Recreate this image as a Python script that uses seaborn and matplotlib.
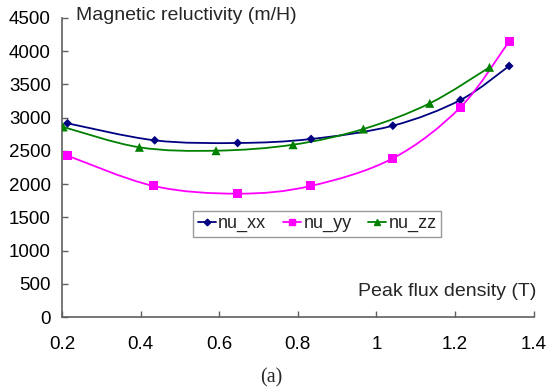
import numpy as np
import pandas as pd
import seaborn as sns
import matplotlib
matplotlib.use("Agg")
import matplotlib.pyplot as plt
from matplotlib.path import Path
from matplotlib.patches import PathPatch
from matplotlib.lines import Line2D
from matplotlib.ticker import FuncFormatter, MultipleLocator

# ---- data ----
series_names = ["nu_xx", "nu_yy", "nu_zz"]
b_xx = [0.214, 0.436, 0.647, 0.834, 1.042, 1.214, 1.338]
nu_xx = [2915, 2659, 2619, 2679, 2879, 3266, 3778]
b_yy = [0.214, 0.433, 0.647, 0.833, 1.042, 1.214, 1.338]
nu_yy = [2428, 1972, 1856, 1972, 2388, 3156, 4149]
b_zz = [0.203, 0.397, 0.592, 0.788, 0.967, 1.136, 1.288]
nu_zz = [2860, 2554, 2503, 2593, 2829, 3216, 3758]
x_ticks = [0.2, 0.4, 0.6, 0.8, 1.0, 1.2, 1.4]
y_label = "Magnetic reluctivity (m/H)"
x_label = "Peak flux density (T)"
caption = "(a)"

colors = {"nu_xx": "#000080", "nu_yy": "#FF00FF", "nu_zz": "#008000"}
markers = {"nu_xx": "D", "nu_yy": "s", "nu_zz": "^"}
msizes = {"nu_xx": 4.5, "nu_yy": 6.5, "nu_zz": 6.5}

df = pd.concat([
    pd.DataFrame({"B": b_xx, "nu": nu_xx, "series": "nu_xx"}),
    pd.DataFrame({"B": b_yy, "nu": nu_yy, "series": "nu_yy"}),
    pd.DataFrame({"B": b_zz, "nu": nu_zz, "series": "nu_zz"}),
])

sns.set_style("ticks")
plt.rcParams["font.family"] = ["Liberation Sans", "DejaVu Sans"]

fig = plt.figure(figsize=(5.5, 3.92), dpi=100)
ax = fig.add_axes([62 / 550, 1 - 317 / 392, (533.5 - 62) / 550, (317 - 18) / 392])


def smooth_path(xs, ys):
    """Excel-like smoothed line: cubic Bezier through the points."""
    pts = np.column_stack([xs, ys]).astype(float)
    n = len(pts)
    verts = [pts[0]]
    codes = [Path.MOVETO]
    for i in range(n - 1):
        p0 = pts[i - 1] if i > 0 else pts[i]
        p1 = pts[i]
        p2 = pts[i + 1]
        p3 = pts[i + 2] if i + 2 < n else pts[i + 1]
        c1 = p1 + (p2 - p0) / 6.0
        c2 = p2 - (p3 - p1) / 6.0
        verts += [c1, c2, p2]
        codes += [Path.CURVE4] * 3
    return Path(verts, codes)


for name in series_names:
    sub = df[df["series"] == name]
    ax.add_patch(PathPatch(smooth_path(sub["B"], sub["nu"]), facecolor="none",
                           edgecolor=colors[name], lw=1.3, zorder=2))

sns.scatterplot(data=df, x="B", y="nu", hue="series", style="series",
                palette=colors, markers=markers, size="series",
                sizes={k: v ** 2 for k, v in msizes.items()},
                edgecolor="none", legend=False, ax=ax, zorder=3)

ax.set_xlim(0.2, 1.4)
ax.set_ylim(0, 4500)
ax.set_xticks(x_ticks)
ax.yaxis.set_major_locator(MultipleLocator(500))
ax.xaxis.set_major_formatter(FuncFormatter(lambda v, p: f"{v:g}"))
ax.set_xlabel("")
ax.set_ylabel("")
for s in ["top", "right"]:
    ax.spines[s].set_visible(False)
for s in ["left", "bottom"]:
    ax.spines[s].set_color("#606060")
    ax.spines[s].set_linewidth(1.2)
ax.tick_params(direction="in", length=4, width=1, color="#606060",
               labelsize=13.5, labelcolor="black")
ax.tick_params(axis="x", pad=14)
ax.tick_params(axis="y", pad=8)

ax.text(0.03, 1.01, y_label, transform=ax.transAxes, fontsize=14,
        ha="left", va="center")
ax.text(1.006, 0.084, x_label, transform=ax.transAxes, fontsize=14,
        ha="right", va="center")

handles = [Line2D([], [], color=colors[n], marker=markers[n],
                  markersize=msizes[n] * 0.75, lw=1.3) for n in series_names]
leg = ax.legend(handles, series_names, loc="lower left",
                bbox_to_anchor=((193 - 62) / 471.5, (317 - 237) / 299),
                ncol=3, fontsize=13, frameon=True, fancybox=False,
                handlelength=1.0, handletextpad=0.15, columnspacing=0.9,
                borderpad=0.25, borderaxespad=0)
leg.get_frame().set_edgecolor("#808080")
leg.get_frame().set_linewidth(1.0)

fig.text(271 / 550, 1 - 378 / 392, caption, fontsize=14.5,
         family=["Liberation Serif", "DejaVu Serif"], ha="center", va="center")

fig.savefig("out.png", dpi=100, facecolor="white")
